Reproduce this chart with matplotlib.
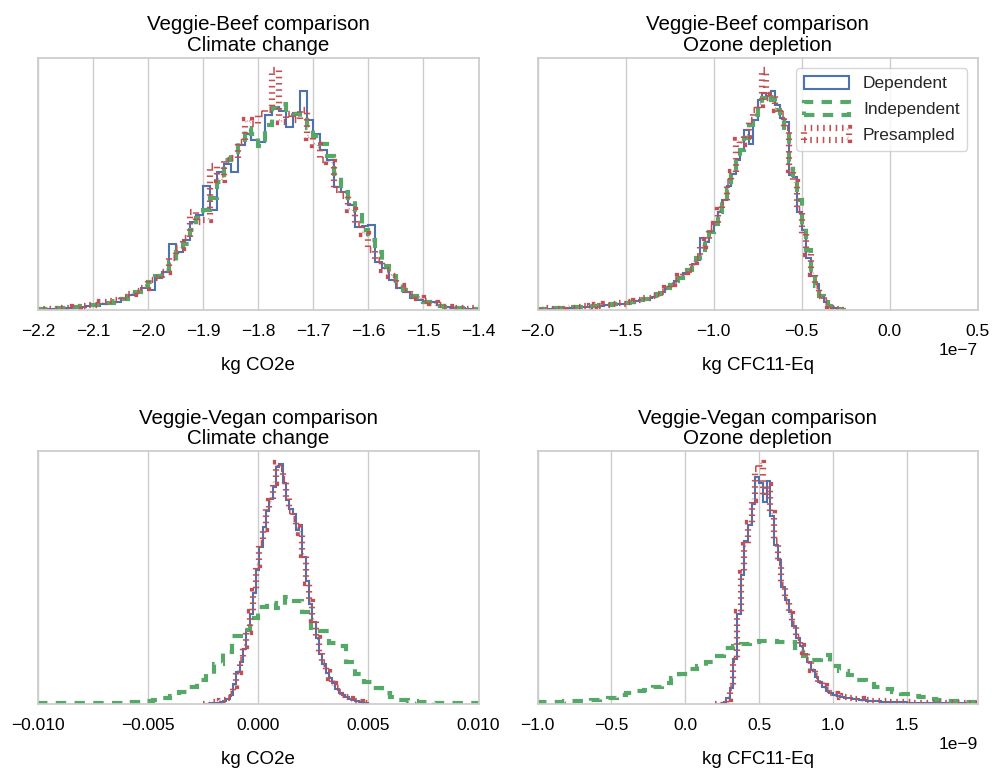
import numpy as np
import matplotlib
matplotlib.use("Agg")
import matplotlib.pyplot as plt
import seaborn as sns
from matplotlib.patches import Patch

sns.set_style("whitegrid")
plt.rcParams["font.family"] = ["Liberation Sans", "DejaVu Sans"]

# histogram counts per comparison; each series has (bin start, bin width, counts)
series_labels = ["Dependent", "Independent", "Presampled"]

# Veggie-Beef, climate change
beef_cc_dependent = [1, 1, 1, 1, 2, 3, 3, 4, 4, 6, 7, 8, 12, 15, 18, 22, 20, 32, 38, 66,
                     58, 70, 88, 95, 124, 100, 138, 146, 138, 165, 176, 170, 168, 195, 203, 199, 183, 197, 219, 190,
                     176, 160, 150, 123, 118, 105, 83, 84, 85, 48, 42, 30, 22, 18, 12, 10, 8, 8, 5, 3,
                     2, 2, 1, 1]
beef_cc_independent = [1, 1, 2, 2, 3, 3, 4, 5, 5, 6, 7, 9, 11, 14, 18, 24, 28, 34, 40, 48,
                       58, 66, 80, 92, 100, 112, 128, 150, 158, 170, 182, 176, 164, 185, 202, 206, 198, 196, 190, 182,
                       174, 166, 154, 136, 118, 112, 98, 80, 70, 58, 44, 34, 26, 20, 14, 10, 8, 6, 4, 3,
                       2, 2, 1, 1]
beef_cc_presampled = [1, 1, 1, 2, 2, 3, 4, 5, 5, 8, 9, 10, 13, 16, 19, 22, 30, 32, 38, 52,
                      62, 72, 98, 88, 90, 144, 130, 150, 152, 168, 190, 186, 196, 200, 240, 188, 196, 190, 200, 172,
                      165, 150, 148, 120, 114, 100, 86, 76, 60, 50, 40, 34, 24, 20, 14, 12, 9, 7, 5, 3,
                      2, 2, 1, 2]
beef_cc_bins = [(-2.2, 0.0125), (-2.2, 0.0125), (-2.2, 0.0125)]
beef_cc_ticks = [-2.2, -2.1, -2.0, -1.9, -1.8, -1.7, -1.6, -1.5, -1.4]

# Veggie-Beef, ozone depletion
beef_oz_dependent = [1, 1, 1, 1, 1, 2, 2, 2, 2, 3, 3, 3, 4, 4, 4, 5, 5, 5, 6, 6,
                     7, 7, 9, 10, 11, 12, 13, 15, 18, 22, 26, 29, 33, 37, 41, 46, 50, 72, 68, 78,
                     88, 98, 110, 124, 136, 150, 160, 180, 166, 190, 210, 217, 214, 219, 205, 192, 188, 135, 133, 98,
                     80, 52, 34, 26, 13, 8, 4, 2, 1, 0]
beef_oz_independent = [1, 1, 1, 1, 2, 2, 2, 2, 3, 3, 3, 3, 4, 4, 5, 5, 5, 6, 6, 7,
                       7, 8, 9, 10, 11, 13, 14, 16, 19, 22, 25, 29, 32, 36, 40, 45, 52, 60, 70, 78,
                       86, 98, 108, 120, 136, 150, 160, 172, 185, 195, 206, 212, 216, 210, 200, 190, 180, 148, 128, 110,
                       84, 60, 38, 24, 14, 8, 4, 2, 1, 0]
beef_oz_presampled = [2, 1, 2, 1, 1, 2, 3, 2, 2, 3, 4, 3, 4, 5, 4, 6, 5, 6, 7, 6,
                      8, 8, 9, 10, 12, 12, 14, 16, 18, 22, 26, 30, 34, 38, 40, 48, 52, 64, 70, 82,
                      86, 100, 108, 128, 138, 170, 166, 174, 190, 200, 205, 240, 212, 215, 200, 196, 182, 140, 128, 100,
                      76, 56, 36, 24, 14, 8, 4, 2, 1, 0]
beef_oz_bins = [(-2.0e-7, 0.025e-7), (-2.0e-7, 0.025e-7), (-2.0e-7, 0.025e-7)]
beef_oz_ticks = [-2.0e-7, -1.5e-7, -1.0e-7, -0.5e-7, 0.0, 0.5e-7]

# Veggie-Vegan, climate change
vegan_cc_dependent = [0, 0, 1, 1, 1, 2, 3, 5, 9, 20, 32, 42, 55, 74, 90, 112, 135, 158, 178, 194,
                      206, 218, 238, 241, 222, 205, 196, 191, 175, 180, 148, 124, 100, 82, 66, 50, 40, 31, 26, 21,
                      15, 11, 9, 7, 5, 4, 3, 2, 1, 1]
vegan_cc_independent = [1, 1, 1, 1, 1, 1, 1, 1, 1, 1, 2, 2, 3, 4, 6, 8, 12, 17, 24, 30,
                        40, 52, 68, 74, 86, 97, 101, 96, 108, 103, 92, 76, 73, 61, 58, 42, 30, 22, 16, 11,
                        7, 4, 3, 2, 2, 1, 1, 1, 1, 1]
vegan_cc_presampled = [0, 0, 1, 2, 2, 3, 4, 6, 10, 18, 32, 44, 58, 72, 92, 114, 140, 162, 176, 196,
                       204, 222, 242, 236, 226, 208, 194, 186, 178, 172, 150, 122, 102, 84, 66, 52, 40, 32, 26, 20,
                       16, 12, 9, 7, 5, 4, 3, 2, 1, 1]
vegan_cc_bins = [(-0.0025, 0.00015), (-0.010, 0.0004), (-0.0025, 0.00015)]
vegan_cc_ticks = [-0.010, -0.005, 0.0, 0.005, 0.010]

# Veggie-Vegan, ozone depletion
vegan_oz_dependent = [0, 0, 1, 6, 16, 45, 90, 130, 164, 180, 201, 228, 222, 203, 224, 189, 160, 145, 118, 104,
                      92, 78, 66, 58, 50, 42, 34, 27, 22, 17, 13, 11, 9, 8, 7, 6, 6, 5, 5, 4,
                      4, 3, 3, 3, 3, 2, 2, 2, 2, 2, 2, 2, 1, 1, 1, 1, 1, 1, 1, 1,
                      1, 1, 1, 1, 1, 1, 1, 1, 1, 1, 0, 0]
vegan_oz_independent = [2, 2, 2, 3, 3, 3, 4, 5, 6, 9, 11, 13, 14, 17, 21, 26, 30, 35, 38, 42,
                        48, 56, 58, 60, 62, 63, 63, 62, 62, 56, 48, 44, 49, 38, 33, 29, 24, 20, 17, 15,
                        12, 10, 8, 7, 5, 4, 3, 3, 2, 2]
vegan_oz_presampled = [0, 0, 1, 5, 16, 44, 92, 132, 160, 182, 205, 236, 242, 210, 220, 192, 164, 142, 120, 104,
                       90, 80, 66, 58, 52, 44, 34, 28, 22, 18, 14, 11, 10, 8, 7, 7, 6, 5, 5, 5,
                       4, 4, 3, 3, 3, 3, 3, 2, 2, 2, 2, 2, 2, 1, 1, 1, 1, 1, 1, 1,
                       1, 1, 1, 1, 1, 1, 1, 1, 0, 0, 0, 0]
vegan_oz_bins = [(0.2e-9, 0.025e-9), (-1.0e-9, 0.06e-9), (0.2e-9, 0.025e-9)]
vegan_oz_ticks = [-1.0e-9, -0.5e-9, 0.0, 0.5e-9, 1.0e-9, 1.5e-9]

panels = [
    ("Veggie-Beef comparison\nClimate change", "kg CO2e",
     [beef_cc_dependent, beef_cc_independent, beef_cc_presampled], beef_cc_bins,
     (-2.2, -1.4), beef_cc_ticks),
    ("Veggie-Beef comparison\nOzone depletion", "kg CFC11-Eq",
     [beef_oz_dependent, beef_oz_independent, beef_oz_presampled], beef_oz_bins,
     (-2.0e-7, 0.5e-7), beef_oz_ticks),
    ("Veggie-Vegan comparison\nClimate change", "kg CO2e",
     [vegan_cc_dependent, vegan_cc_independent, vegan_cc_presampled], vegan_cc_bins,
     (-0.010, 0.010), vegan_cc_ticks),
    ("Veggie-Vegan comparison\nOzone depletion", "kg CFC11-Eq",
     [vegan_oz_dependent, vegan_oz_independent, vegan_oz_presampled], vegan_oz_bins,
     (-1.0e-9, 1.98e-9), vegan_oz_ticks),
]

colors = ["#4C72B0", "#55A868", "#C44E52"]
styles = [dict(lw=1.5, linestyle="-"),
          dict(lw=3.0, linestyle=(0, (2.5, 2.0))),
          dict(lw=4.5, linestyle=(0, (0.25, 0.75)))]

fig, axes = plt.subplots(2, 2, figsize=(10.06, 7.7), dpi=100)
fig.subplots_adjust(left=0.038, right=0.972, top=0.925, bottom=0.086, wspace=0.134, hspace=0.56)

for ax, (title, xlabel, counts, bins, xlim, ticks) in zip(axes.flat, panels):
    for c, (start, width), color, st, label in zip(counts, bins, colors, styles, series_labels):
        edges = start + width * np.arange(len(c) + 1)
        ax.stairs(c, edges, color=color, label=label, **st)
    ax.set_xticks(ticks)
    ax.set_xlim(*xlim)
    ax.set_ylim(bottom=0)
    ax.set_yticks([])
    ax.grid(axis="y", visible=False)
    ax.grid(axis="x", color="#cccccc", lw=1.0)
    for sp in ax.spines.values():
        sp.set_color("#cccccc")
        sp.set_linewidth(1.25)
    ax.tick_params(axis="x", length=0, pad=10, labelsize=12.5, colors="black")
    ax.xaxis.get_offset_text().set_fontsize(12.5)
    ax.set_title(title, fontsize=14.8, color="black", pad=5, linespacing=1.12)
    ax.set_xlabel(xlabel, fontsize=13.5, labelpad=13, color="black")

# legend uses outlined boxes like the step histograms
handles = [Patch(facecolor="none", edgecolor=color, label=label, **st)
           for color, st, label in zip(colors, styles, series_labels)]
axes[0, 1].legend(handles=handles, loc="upper right", fontsize=12.5, frameon=True,
                  handlelength=2.6, handleheight=0.75, borderaxespad=0.6,
                  labelspacing=0.6, borderpad=0.45)

plt.savefig("out.png", dpi=100)
